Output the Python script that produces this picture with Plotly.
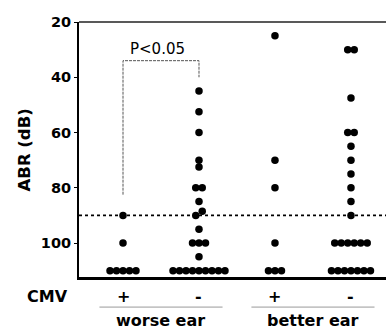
import plotly.graph_objects as go

# ---- data ----
cmv_labels = ["+", "-", "+", "-"]
ear_labels = ["worse ear", "better ear"]
worse_cmv_pos = [90, 100, 110, 110, 110, 110, 110]
worse_cmv_neg = [45, 52.5, 60, 70, 72.5, 80, 80, 85, 88.5, 90, 95, 100, 100, 100, 105,
                 110, 110, 110, 110, 110, 110, 110, 110, 110]
better_cmv_pos = [25, 70, 80, 100, 110, 110, 110]
better_cmv_neg = [30, 30, 47.5, 60, 60, 65, 70, 75, 80, 85, 90,
                  100, 100, 100, 100, 100, 100,
                  110, 110, 110, 110, 110, 110, 110]
threshold_db = 90
y_ticks = [20, 40, 60, 80, 100]
p_text = "P<0.05"

series = [worse_cmv_pos, worse_cmv_neg, better_cmv_pos, better_cmv_neg]

DX = 0.0855  # horizontal spacing of dots in a row (x units)


def swarm(vals, center):
    vs = sorted(vals, reverse=True)
    clusters = []
    for v in vs:
        if clusters and abs(clusters[-1][0] - v) <= 1.5:
            clusters[-1].append(v)
        else:
            clusters.append([v])
    xs, ys = [], []
    for c in clusters:
        n = len(c)
        for k, v in enumerate(c):
            xs.append(center + (k - (n - 1) / 2) * DX)
            ys.append(v)
    return xs, ys


fig = go.Figure()
for i, vals in enumerate(series):
    xs, ys = swarm(vals, i)
    fig.add_trace(go.Scatter(x=xs, y=ys, mode="markers",
                             marker=dict(size=7.5, color="black"),
                             showlegend=False, hoverinfo="skip", cliponaxis=False))

bold = dict(family="DejaVu Sans", size=16, color="black", weight="bold")

annotations = []
annotations.append(dict(text="ABR (dB)", xref="paper", yref="paper", x=-0.176, y=0.5,
                        xanchor="center", yanchor="middle",
                        textangle=-90, showarrow=False, font=dict(bold, size=16.5)))
annotations.append(dict(text="CMV", xref="paper", yref="paper", x=-0.03, y=-0.075,
                        xanchor="right", yanchor="middle", showarrow=False,
                        font=dict(bold, size=16)))
for i, lab in enumerate(cmv_labels):
    annotations.append(dict(text=lab, xref="x", yref="paper", x=i, y=-0.075,
                            xanchor="center", yanchor="middle", showarrow=False,
                            font=dict(bold, size=16)))
for j, lab in enumerate(ear_labels):
    annotations.append(dict(text=lab, xref="x", yref="paper", x=2 * j + 0.5, y=-0.17,
                            xanchor="center", yanchor="middle", showarrow=False,
                            font=dict(bold, size=16)))
annotations.append(dict(text=p_text, xref="x", yref="y", x=0.45, y=34, yanchor="bottom",
                        xanchor="center", showarrow=False, yshift=1,
                        font=dict(family="DejaVu Sans", size=15, color="black")))

shapes = []
# threshold dotted line
shapes.append(dict(type="line", xref="paper", yref="y", x0=0, x1=1,
                   y0=threshold_db, y1=threshold_db,
                   line=dict(color="black", width=1.6, dash="dot")))
# top border
shapes.append(dict(type="line", xref="paper", yref="paper", x0=0, x1=1, y0=1, y1=1,
                   line=dict(color="#222", width=1.6)))
# significance bracket
shapes.append(dict(type="path", xref="x", yref="y",
                   path="M 0,82.5 L 0,34 L 1,34 L 1,40",
                   line=dict(color="#555", width=1, dash="3px,1px")))
# group underlines
for j in range(2):
    shapes.append(dict(type="line", xref="x", yref="paper",
                       x0=2 * j + 0.5 - 0.81, x1=2 * j + 0.5 + 0.81, y0=-0.118, y1=-0.118,
                       line=dict(color="#999", width=1)))

fig.update_layout(
    width=386, height=332,
    margin=dict(l=79, r=0, t=22, b=55),
    plot_bgcolor="white", paper_bgcolor="white",
    annotations=annotations, shapes=shapes,
    xaxis=dict(range=[-0.579, 3.461], showgrid=False, zeroline=False,
               showticklabels=False, ticks="", showline=True,
               linecolor="black", linewidth=2.5),
    yaxis=dict(range=[112.3, 20], tickvals=y_ticks, showgrid=False, zeroline=False,
               showline=True, linecolor="black", linewidth=2,
               ticks="outside", ticklen=3, tickwidth=1, tickcolor="black",
               tickfont=dict(family="DejaVu Sans", size=14.5, color="black", weight="bold")),
)

fig.write_html("out.html")
